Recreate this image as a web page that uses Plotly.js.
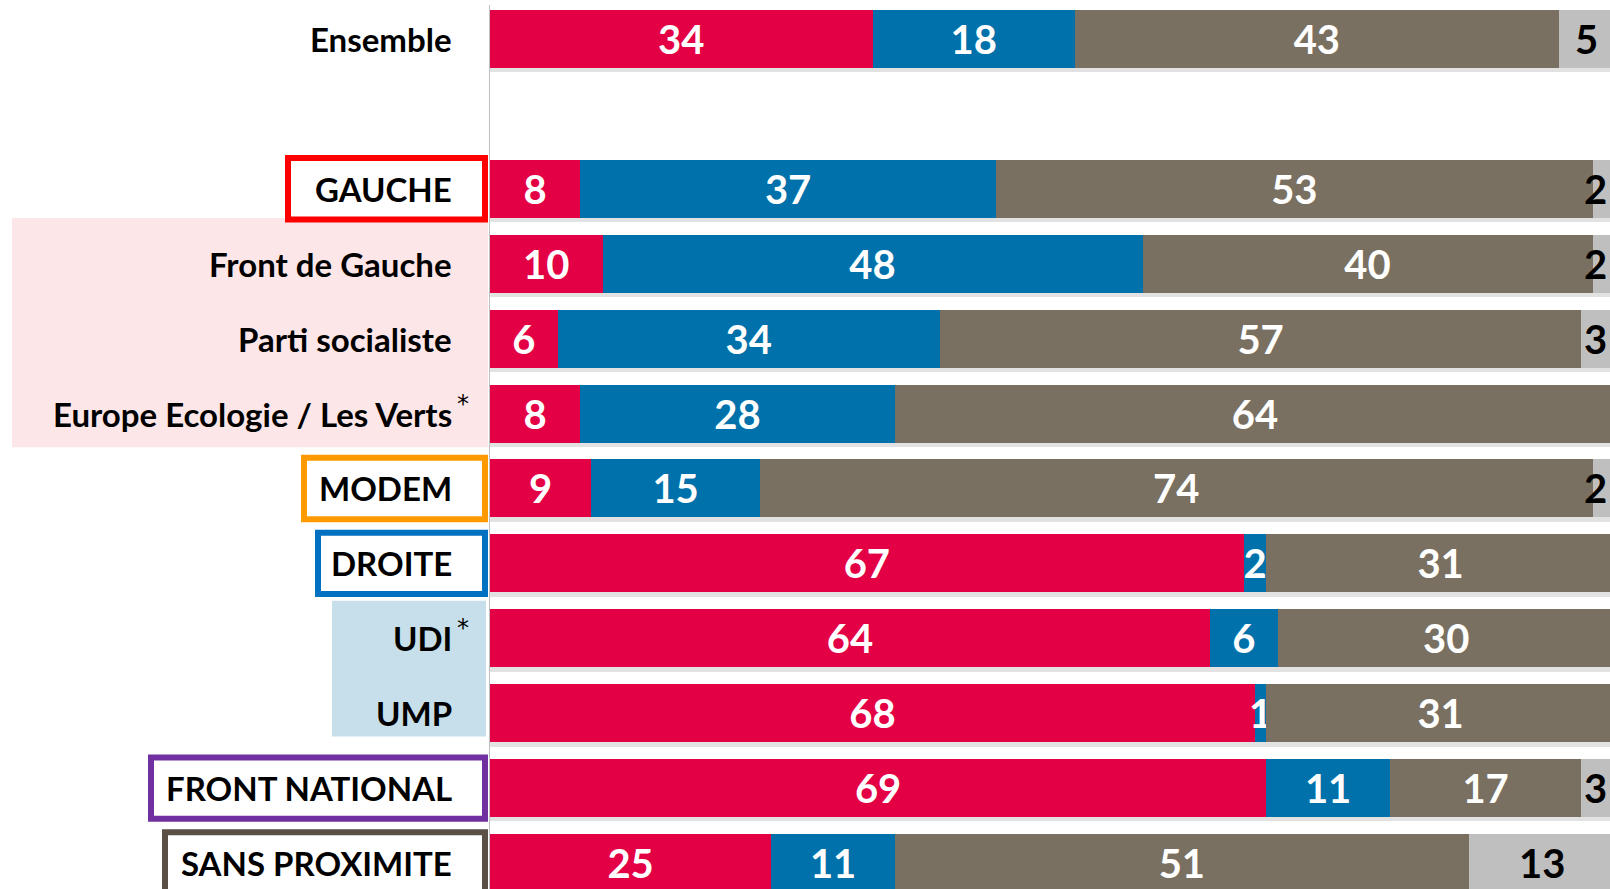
<!DOCTYPE html>
<html>
<head>
<meta charset="utf-8">
<script src="https://cdn.plot.ly/plotly-3.0.1.min.js"></script>
<style>html,body{margin:0;padding:0;background:#fff;overflow:hidden;}#chart{width:1616px;height:889px;}</style>
</head>
<body>
<div id="chart"></div>
<script>
// ---- data ----
const categories = ['Ensemble', ' ', 'GAUCHE', 'Front de Gauche', 'Parti socialiste', 'Europe Ecologie / Les Verts', 'MODEM', 'DROITE', 'UDI', 'UMP', 'FRONT NATIONAL', 'SANS PROXIMITE'];
const notes =      ['', '', '', '', '', '*', '', '', '*', '', '', ''];
const seriesRed   = [34, null, 8, 10, 6, 8, 9, 67, 64, 68, 69, 25];
const seriesBlue  = [18, null, 37, 48, 34, 28, 15, 2, 6, 1, 11, 11];
const seriesBrown = [43, null, 53, 40, 57, 64, 74, 31, 30, 31, 17, 51];
const seriesGray  = [5, null, 2, 2, 3, null, 2, null, null, null, 3, 13];

// ---- styles ----
const W = 1616, H = 889;
const AXIS_X = 490, AXIS_END = 1615;
const FONT = 'Lato, "Open Sans", sans-serif';
const LABEL_X_LIMIT = 98.3; // keep end-of-row labels inside the visible window

function barTrace(vals, color, textColor, name, showText) {
  return {
    type: 'bar', orientation: 'h', name: name, yaxis: 'y2',
    y: categories, x: vals,
    text: vals.map(v => v == null ? '' : String(v)),
    textposition: showText ? 'inside' : 'none', insidetextanchor: 'middle', textangle: 0,
    constraintext: 'none', cliponaxis: false,
    textfont: {family: FONT, size: 40, color: textColor, weight: 700},
    marker: {color: color, line: {width: 0}},
    hoverinfo: 'skip', showlegend: false
  };
}

const totals = categories.map((_, i) => {
  const parts = [seriesRed[i], seriesBlue[i], seriesBrown[i], seriesGray[i]].filter(v => v != null);
  return parts.length ? parts.reduce((a, b) => a + b, 0) : null;
});

const shadow = {
  type: 'bar', orientation: 'h', yaxis: 'y', y: categories, x: totals,
  width: 0.775, offset: -0.33,
  marker: {color: 'rgba(150,150,150,0.28)', line: {width: 0}},
  hoverinfo: 'skip', showlegend: false
};

const data = [
  shadow,
  barTrace(seriesRed, '#E30045', '#FFFFFF', 'a', true),
  barTrace(seriesBlue, '#0071AA', '#FFFFFF', 'b', true),
  barTrace(seriesBrown, '#7A7061', '#FFFFFF', 'c', true),
  barTrace(seriesGray, '#BFBFBF', '#000000', 'd', false)
];

const px = v => v / W;
const idx = name => categories.indexOf(name);

const shapes = [];
// background bands
shapes.push({type:'rect', layer:'below', xref:'paper', yref:'y', x0:px(12), x1:px(488), y0:2.39, y1:5.45, fillcolor:'#FDE6E7', line:{width:0}});
shapes.push({type:'rect', layer:'below', xref:'paper', yref:'y', x0:px(332), x1:px(486), y0:7.50, y1:9.31, fillcolor:'#C6DFEA', line:{width:0}});
// boxed labels
const boxes = [
  {cat:'GAUCHE', x0:285, color:'#FF0000'},
  {cat:'MODEM', x0:301, color:'#FF9900'},
  {cat:'DROITE', x0:315, color:'#0070C0'},
  {cat:'FRONT NATIONAL', x0:148, color:'#7030A0'},
  {cat:'SANS PROXIMITE', x0:162, color:'#5A5046'}
];
boxes.forEach(b => {
  const i = idx(b.cat);
  shapes.push({type:'rect', layer:'below', xref:'paper', yref:'y', x0:px(b.x0 + 3), x1:px(488 - 3), y0:i - 0.41, y1:i + 0.41, fillcolor:'#FFFFFF', line:{color:b.color, width:6}});
});

const annotations = [];
categories.forEach((c, i) => {
  if (c.trim() === '') return;
  annotations.push({xref:'paper', yref:'y', x:px(454), y:c, xanchor:'right', yanchor:'middle', showarrow:false, text:c, font:{family:FONT, size:33, color:'#000000', weight:700}});
  if (notes[i]) {
    annotations.push({xref:'paper', yref:'y', x:px(455), y:c, xanchor:'left', yanchor:'middle', yshift:10, showarrow:false, text:notes[i], font:{family:'"DejaVu Sans", sans-serif', size:24, color:'#000000'}});
  }
  // labels of the last (grey) segment, placed on the data scale
  const g = seriesGray[i];
  if (g != null) {
    const start = (seriesRed[i] || 0) + (seriesBlue[i] || 0) + (seriesBrown[i] || 0);
    annotations.push({xref:'x', yref:'y', x:Math.min(start + g / 2, LABEL_X_LIMIT), y:c, xanchor:'center', yanchor:'middle', showarrow:false, text:String(g), font:{family:FONT, size:40, color:'#000000', weight:700}});
  }
});

const yBase = {domain:[0, 884 / H], type:'category', categoryorder:'array', categoryarray:categories, range:[11.347, -0.454], showgrid:false, zeroline:false, showticklabels:false, ticks:'', fixedrange:true};

const layout = {
  width: W, height: H,
  margin: {l:0, r:0, t:0, b:0, pad:0},
  paper_bgcolor:'#FFFFFF', plot_bgcolor:'rgba(0,0,0,0)',
  barmode:'stack', bargap:0.225,
  xaxis: {domain:[px(AXIS_X), px(AXIS_END)], range:[0, 100], showgrid:false, zeroline:false, showticklabels:false, ticks:'', showline:false, fixedrange:true},
  yaxis: Object.assign({}, yBase, {showline:true, linecolor:'#BFBFBF', linewidth:1}),
  yaxis2: Object.assign({}, yBase, {overlaying:'y', showline:false}),
  shapes: shapes,
  annotations: annotations,
  showlegend:false
};

Plotly.newPlot('chart', data, layout, {displayModeBar:false, staticPlot:true});
</script>
</body>
</html>
